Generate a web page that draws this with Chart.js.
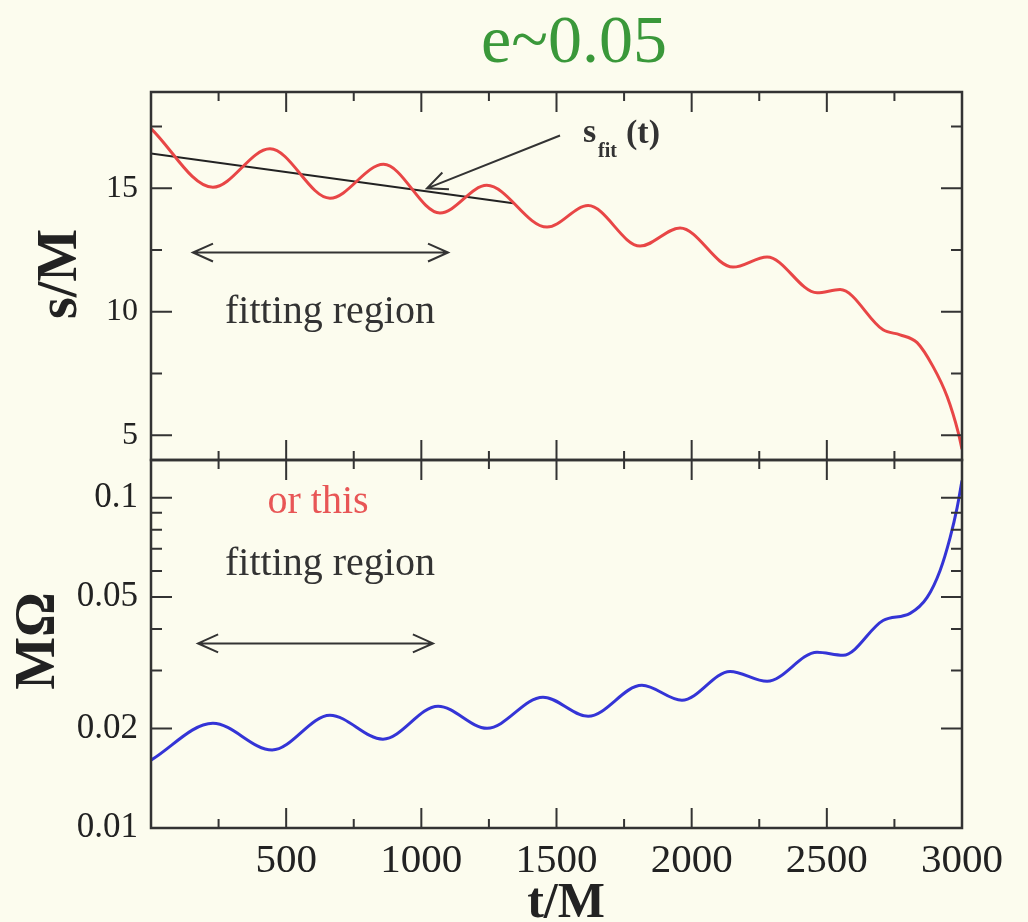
<!DOCTYPE html>
<html>
<head>
<meta charset="utf-8">
<script src="https://cdn.jsdelivr.net/npm/chart.js@4.4.1/dist/chart.umd.min.js"></script>
<style>
  body { margin: 0; background: #fcfcee; }
  #wrap { position: relative; width: 1028px; height: 922px; overflow: hidden; }
  canvas { position: absolute; left: 0; }
  #top { top: 0; }
  #bottom { top: 458px; }
</style>
</head>
<body>
<div id="wrap">
  <canvas id="top" width="1028" height="462"></canvas>
  <canvas id="bottom" width="1028" height="464"></canvas>
</div>
<script>
// separation s/M (red)
const sTime  = [0, 229, 440, 662, 860, 1069, 1242, 1465, 1617, 1809, 1957, 2153, 2279, 2464, 2549, 2708, 2771, 2834, 2893, 2945, 2986, 3000];
const sValue = [17.42, 15.04, 16.6, 14.6, 15.97, 14.0, 15.12, 13.43, 14.3, 12.66, 13.39, 11.81, 12.22, 10.77, 10.9, 9.27, 9.07, 8.75, 7.78, 6.57, 5.12, 4.44];

// fit line s_fit(t)
const fitTime  = [0, 1340];
const fitValue = [16.41, 14.4];

// orbital frequency M*Omega (blue)
const omegaTime  = [0, 229, 448, 662, 858, 1062, 1243, 1450, 1617, 1816, 1964, 2142, 2279, 2464, 2560, 2708, 2808, 2871, 2919, 2956, 2982, 3000];
const omegaValue = [0.01605, 0.02075, 0.01722, 0.02194, 0.01857, 0.02338, 0.02004, 0.02489, 0.02178, 0.02704, 0.02436, 0.02978, 0.02779, 0.03404, 0.03334, 0.04248, 0.04463, 0.04989, 0.0602, 0.0757, 0.0933, 0.1126];

// ticks
const xTicks = [0, 250, 500, 750, 1000, 1250, 1500, 1750, 2000, 2250, 2500, 2750, 3000];
const xLabels = [500, 1000, 1500, 2000, 2500, 3000];
const sTicks = [5, 7.5, 10, 12.5, 15, 17.5];
const sLabels = [5, 10, 15];
const omegaTicks = [0.01, 0.02, 0.03, 0.04, 0.05, 0.06, 0.07, 0.08, 0.09, 0.1];
const omegaLabels = [0.01, 0.02, 0.05, 0.1];

// annotations (data units)
const topArrow = { from: 155, to: 1099, s: 12.4 };
const bottomArrow = { from: 174, to: 1043, omega: 0.0362 };
const fitPointer = { t0: 1513, s0: 17.14, t1: 1021, s1: 15.0 };

const SERIF = '"Liberation Serif", "DejaVu Serif", serif';
const INK = '#333';

function pts(xs, ys) { return xs.map((x, i) => ({ x: x, y: ys[i] })); }

function noPad(s) {
  s.paddingTop = 0; s.paddingBottom = 0; s.paddingLeft = 0; s.paddingRight = 0;
}

function head(ctx, x, y, ang) {
  const L = 22, w = 0.42;
  ctx.moveTo(x + L * Math.cos(ang + w), y + L * Math.sin(ang + w));
  ctx.lineTo(x, y);
  ctx.lineTo(x + L * Math.cos(ang - w), y + L * Math.sin(ang - w));
}

function frame(yTicks, yMajor, extra) {
  return {
    id: 'frame',
    afterDraw(chart) {
      const { ctx, chartArea: a, scales } = chart;
      ctx.save();
      ctx.strokeStyle = INK;
      ctx.lineWidth = 2.5;
      ctx.strokeRect(a.left, a.top, a.right - a.left, a.bottom - a.top);
      ctx.lineWidth = 2;
      ctx.beginPath();
      xTicks.forEach(v => {
        if (v <= 0 || v >= 3000) return;
        const px = scales.x.getPixelForValue(v);
        const len = v % 500 === 0 ? 20 : 9;
        ctx.moveTo(px, a.top); ctx.lineTo(px, a.top + len);
        ctx.moveTo(px, a.bottom); ctx.lineTo(px, a.bottom - len);
      });
      yTicks.forEach(v => {
        const py = scales.y.getPixelForValue(v);
        if (py <= a.top + 1 || py >= a.bottom - 1) return;
        const len = yMajor.includes(v) ? 21 : 11;
        ctx.moveTo(a.left, py); ctx.lineTo(a.left + len, py);
        ctx.moveTo(a.right, py); ctx.lineTo(a.right - len, py);
      });
      ctx.stroke();
      extra(ctx, chart);
      ctx.restore();
    }
  };
}

function baseX(showLabels, h) {
  return {
    type: 'linear', min: 0, max: 3000,
    afterBuildTicks: s => { s.ticks = xTicks.map(v => ({ value: v })); },
    afterFit: s => { s.height = h; noPad(s); },
    grid: { display: false, drawTicks: false },
    border: { display: false },
    ticks: {
      display: showLabels, autoSkip: false, maxRotation: 0, padding: 9,
      color: '#222', font: { family: SERIF, size: 41 },
      callback: v => xLabels.includes(v) ? String(v) : ''
    }
  };
}

Chart.defaults.animation = false;

new Chart(document.getElementById('top'), {
  type: 'line',
  data: {
    datasets: [
      { data: pts(sTime, sValue), borderColor: '#e84646', borderWidth: 3, pointRadius: 0, cubicInterpolationMode: 'monotone' },
      { data: pts(fitTime, fitValue), borderColor: '#222', borderWidth: 2, pointRadius: 0, tension: 0 }
    ]
  },
  options: {
    responsive: false, devicePixelRatio: 1, events: [],
    layout: { padding: { left: 0, right: 66, top: 92, bottom: 2 } },
    plugins: { legend: { display: false }, tooltip: { enabled: false } },
    scales: {
      x: baseX(false, 0),
      y: {
        type: 'linear', min: 4, max: 18.9,
        afterBuildTicks: s => { s.ticks = sTicks.map(v => ({ value: v })); },
        afterFit: s => { s.width = 151; noPad(s); },
        grid: { display: false, drawTicks: false },
        border: { display: false },
        ticks: {
          autoSkip: false, padding: 13, color: '#222', font: { family: SERIF, size: 32 },
          callback: v => sLabels.includes(v) ? String(v) : ''
        }
      }
    }
  },
  plugins: [frame(sTicks, sLabels, (ctx, chart) => {
    const { x, y } = chart.scales;
    // title
    ctx.fillStyle = '#3a983a';
    ctx.font = '68px ' + SERIF;
    ctx.textAlign = 'center';
    ctx.textBaseline = 'alphabetic';
    ctx.fillText('e~0.05', 574, 62);
    // y title
    ctx.save();
    ctx.translate(62, 274);
    ctx.rotate(-Math.PI / 2);
    ctx.fillStyle = '#222';
    ctx.font = 'bold 56px ' + SERIF;
    ctx.textBaseline = 'middle';
    ctx.fillText('s/M', 0, 0);
    ctx.restore();
    // s_fit(t)
    ctx.fillStyle = INK;
    ctx.textAlign = 'left';
    ctx.font = 'bold 34px ' + SERIF;
    ctx.fillText('s', 583, 142);
    ctx.font = 'bold 20px ' + SERIF;
    ctx.fillText('fit', 598, 157);
    ctx.font = 'bold 34px ' + SERIF;
    ctx.fillText('(t)', 626, 143);
    // fitting region
    ctx.textAlign = 'center';
    ctx.font = '40px ' + SERIF;
    ctx.fillText('fitting region', 330, 323);
    // arrows
    ctx.strokeStyle = INK;
    ctx.lineWidth = 2;
    ctx.beginPath();
    const ay = y.getPixelForValue(topArrow.s);
    const ax0 = x.getPixelForValue(topArrow.from), ax1 = x.getPixelForValue(topArrow.to);
    ctx.moveTo(ax0, ay); ctx.lineTo(ax1, ay);
    head(ctx, ax0, ay, 0);
    head(ctx, ax1, ay, Math.PI);
    const px0 = x.getPixelForValue(fitPointer.t0), py0 = y.getPixelForValue(fitPointer.s0);
    const px1 = x.getPixelForValue(fitPointer.t1), py1 = y.getPixelForValue(fitPointer.s1);
    ctx.moveTo(px0, py0); ctx.lineTo(px1, py1);
    head(ctx, px1, py1, Math.atan2(py0 - py1, px0 - px1));
    ctx.stroke();
  })]
});

new Chart(document.getElementById('bottom'), {
  type: 'line',
  data: {
    datasets: [
      { data: pts(omegaTime, omegaValue), borderColor: '#3434d6', borderWidth: 3, pointRadius: 0, cubicInterpolationMode: 'monotone' }
    ]
  },
  options: {
    responsive: false, devicePixelRatio: 1, events: [],
    layout: { padding: { left: 0, right: 66, top: 2, bottom: 0 } },
    plugins: { legend: { display: false }, tooltip: { enabled: false } },
    scales: {
      x: baseX(true, 94),
      y: {
        type: 'logarithmic', min: 0.01, max: 0.13,
        afterBuildTicks: s => { s.ticks = omegaTicks.map(v => ({ value: v })); },
        afterFit: s => { s.width = 151; noPad(s); },
        grid: { display: false, drawTicks: false },
        border: { display: false },
        ticks: {
          autoSkip: false, padding: 13, color: '#222', font: { family: SERIF, size: 35 },
          callback: v => omegaLabels.includes(v) ? String(v) : ''
        }
      }
    }
  },
  plugins: [frame(omegaTicks, omegaLabels, (ctx, chart) => {
    const { x, y } = chart.scales;
    ctx.textBaseline = 'alphabetic';
    ctx.textAlign = 'center';
    ctx.font = '40px ' + SERIF;
    ctx.fillStyle = '#e85656';
    ctx.fillText('or this', 318, 55);
    ctx.fillStyle = INK;
    ctx.fillText('fitting region', 330, 117);
    // axis titles
    ctx.fillStyle = '#222';
    ctx.font = 'bold 50px ' + SERIF;
    ctx.fillText('t/M', 566, 459);
    ctx.save();
    ctx.translate(40, 183);
    ctx.rotate(-Math.PI / 2);
    ctx.font = 'bold 56px ' + SERIF;
    ctx.textBaseline = 'middle';
    ctx.fillText('M\u03A9', 0, 0);
    ctx.restore();
    // arrow
    ctx.strokeStyle = INK;
    ctx.lineWidth = 2;
    ctx.beginPath();
    const ay = y.getPixelForValue(bottomArrow.omega);
    const ax0 = x.getPixelForValue(bottomArrow.from), ax1 = x.getPixelForValue(bottomArrow.to);
    ctx.moveTo(ax0, ay); ctx.lineTo(ax1, ay);
    head(ctx, ax0, ay, 0);
    head(ctx, ax1, ay, Math.PI);
    ctx.stroke();
  })]
});
</script>
</body>
</html>
